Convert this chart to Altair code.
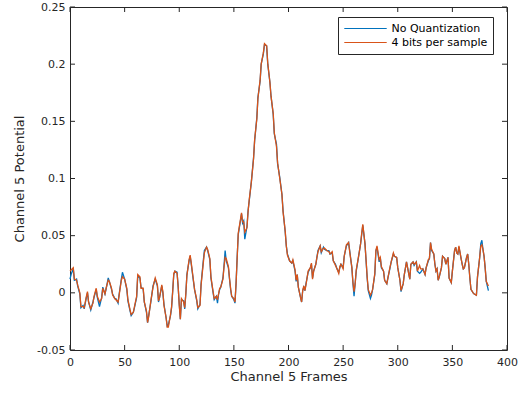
import altair as alt
import pandas as pd

frames = [
    0, 1, 3, 4, 6, 7, 9, 10, 12, 13,
    15, 16, 17, 19, 21, 22, 24, 25, 27, 29,
    30, 32, 33, 35, 36, 38, 39, 41, 42, 44,
    45, 47, 48, 50, 52, 53, 55, 56, 58, 59,
    61, 62, 64, 65, 67, 68, 70, 71, 72, 74,
    76, 78, 80, 81, 82, 84, 85, 86, 88, 89,
    90, 92, 93, 94, 95, 96, 98, 99, 100, 101,
    102, 104, 105, 106, 107, 109, 110, 111, 113, 114,
    116, 117, 119, 120, 122, 123, 125, 126, 128, 129,
    131, 132, 134, 135, 136, 137, 138, 140, 141, 142,
    143, 145, 146, 147, 148, 150, 151, 152, 153, 154,
    156, 157, 158, 159, 160, 162, 163, 164, 166, 168,
    169, 171, 172, 174, 175, 177, 178, 180, 181, 183,
    184, 186, 187, 189, 190, 192, 194, 195, 197, 198,
    199, 201, 203, 204, 206, 207, 208, 209, 211, 212,
    213, 214, 215, 216, 217, 218, 220, 221, 222, 223,
    225, 226, 227, 229, 230, 232, 233, 235, 237, 238,
    240, 241, 243, 244, 246, 247, 248, 250, 251, 253,
    255, 256, 258, 259, 260, 261, 262, 264, 265, 266,
    267, 268, 270, 271, 272, 273, 275, 276, 277, 279,
    280, 281, 283, 284, 285, 287, 288, 290, 291, 293,
    294, 296, 297, 299, 300, 302, 303, 305, 306, 308,
    309, 311, 312, 314, 315, 317, 318, 320, 321, 323,
    325, 326, 328, 329, 330, 331, 333, 334, 335, 336,
    337, 338, 340, 341, 343, 344, 346, 347, 349, 350,
    352, 353, 354, 355, 356, 358, 359, 360, 361, 363,
    364, 365, 366, 367, 369, 370, 372, 373, 375, 376,
    377, 378, 379, 380, 381, 383,
]

no_quant = [
    0.012, 0.016, 0.021, 0.011, 0.012, 0.006, -0.001, -0.013, -0.011, -0.014,
    -0.004, 0.000, -0.008, -0.015, -0.008, -0.004, 0.003, -0.004, -0.012, -0.004,
    0.005, -0.001, 0.003, 0.013, 0.010, 0.003, -0.001, -0.005, -0.005, -0.009,
    -0.001, 0.012, 0.018, 0.012, 0.003, -0.007, -0.016, -0.020, -0.017, -0.013,
    -0.004, 0.015, 0.013, 0.005, 0.003, -0.008, -0.017, -0.026, -0.020, -0.008,
    0.006, 0.012, 0.006, -0.008, -0.004, 0.006, 0.000, -0.010, -0.022, -0.029,
    -0.028, -0.020, -0.013, 0.002, 0.016, 0.019, 0.018, 0.005, -0.010, -0.023,
    -0.006, -0.007, -0.014, -0.001, 0.016, 0.028, 0.032, 0.025, 0.010, 0.003,
    -0.007, -0.014, -0.010, 0.008, 0.028, 0.037, 0.040, 0.037, 0.029, 0.013,
    0.000, -0.006, -0.003, -0.009, -0.001, 0.003, 0.005, 0.013, 0.024, 0.037,
    0.028, 0.022, 0.012, 0.003, -0.003, -0.006, -0.009, 0.008, 0.031, 0.051,
    0.063, 0.069, 0.061, 0.063, 0.047, 0.058, 0.072, 0.080, 0.097, 0.118,
    0.133, 0.153, 0.171, 0.185, 0.200, 0.209, 0.217, 0.216, 0.200, 0.184,
    0.172, 0.156, 0.139, 0.130, 0.113, 0.101, 0.086, 0.072, 0.053, 0.041,
    0.034, 0.028, 0.026, 0.028, 0.019, 0.010, 0.016, 0.005, -0.004, -0.008,
    0.002, 0.005, 0.002, 0.008, 0.013, 0.018, 0.022, 0.025, 0.013, 0.019,
    0.025, 0.031, 0.037, 0.041, 0.035, 0.040, 0.038, 0.037, 0.037, 0.034,
    0.035, 0.028, 0.025, 0.022, 0.018, 0.022, 0.025, 0.022, 0.032, 0.041,
    0.044, 0.037, 0.022, 0.008, -0.003, 0.008, 0.019, 0.031, 0.037, 0.043,
    0.051, 0.059, 0.043, 0.028, 0.013, 0.002, -0.005, -0.002, 0.003, 0.016,
    0.037, 0.040, 0.027, 0.031, 0.022, 0.019, 0.011, 0.008, 0.013, 0.022,
    0.027, 0.034, 0.032, 0.031, 0.022, 0.011, 0.001, 0.008, 0.016, 0.027,
    0.022, 0.012, 0.025, 0.027, 0.024, 0.027, 0.019, 0.017, 0.018, 0.021,
    0.016, 0.022, 0.028, 0.030, 0.044, 0.037, 0.034, 0.025, 0.019, 0.021,
    0.011, 0.014, 0.022, 0.032, 0.030, 0.025, 0.031, 0.013, 0.009, 0.019,
    0.037, 0.040, 0.035, 0.034, 0.040, 0.030, 0.025, 0.021, 0.022, 0.031,
    0.034, 0.025, 0.013, 0.003, 0.000, -0.001, -0.002, 0.014, 0.031, 0.043,
    0.046, 0.038, 0.032, 0.022, 0.010, 0.002,
]

four_bits = [
    0.019, 0.020, 0.022, 0.012, 0.011, 0.007, 0.000, -0.012, -0.012, -0.013,
    -0.003, 0.001, -0.008, -0.014, -0.009, -0.003, 0.004, -0.003, -0.008, -0.005,
    0.004, -0.001, 0.004, 0.011, 0.010, 0.004, -0.002, -0.005, -0.006, -0.008,
    -0.002, 0.011, 0.014, 0.012, 0.004, -0.006, -0.015, -0.019, -0.017, -0.012,
    -0.003, 0.016, 0.014, 0.004, 0.004, -0.008, -0.016, -0.026, -0.021, -0.007,
    0.005, 0.013, 0.007, -0.007, -0.004, 0.007, 0.001, -0.011, -0.022, -0.030,
    -0.030, -0.019, -0.012, 0.001, 0.017, 0.019, 0.017, 0.006, -0.011, -0.023,
    -0.005, -0.008, -0.013, -0.001, 0.015, 0.029, 0.033, 0.026, 0.011, 0.003,
    -0.006, -0.013, -0.011, 0.007, 0.026, 0.035, 0.040, 0.038, 0.030, 0.014,
    0.001, -0.005, -0.003, -0.006, -0.001, 0.004, 0.005, 0.012, 0.023, 0.031,
    0.030, 0.023, 0.013, 0.004, -0.003, -0.005, -0.008, 0.008, 0.030, 0.052,
    0.064, 0.070, 0.062, 0.062, 0.053, 0.057, 0.071, 0.081, 0.097, 0.117,
    0.134, 0.152, 0.170, 0.186, 0.200, 0.210, 0.218, 0.216, 0.201, 0.184,
    0.172, 0.157, 0.140, 0.128, 0.114, 0.100, 0.086, 0.071, 0.054, 0.041,
    0.033, 0.028, 0.026, 0.029, 0.020, 0.011, 0.016, 0.005, -0.004, -0.008,
    0.002, 0.006, 0.002, 0.007, 0.013, 0.019, 0.022, 0.026, 0.012, 0.019,
    0.025, 0.031, 0.036, 0.041, 0.036, 0.039, 0.039, 0.037, 0.036, 0.034,
    0.036, 0.028, 0.024, 0.022, 0.017, 0.023, 0.025, 0.021, 0.032, 0.042,
    0.044, 0.036, 0.022, 0.009, 0.001, 0.008, 0.020, 0.031, 0.037, 0.043,
    0.052, 0.060, 0.043, 0.029, 0.014, 0.003, -0.002, 0.000, 0.003, 0.017,
    0.037, 0.041, 0.029, 0.031, 0.023, 0.019, 0.011, 0.008, 0.013, 0.023,
    0.027, 0.035, 0.032, 0.031, 0.022, 0.011, 0.002, 0.008, 0.016, 0.027,
    0.022, 0.012, 0.025, 0.027, 0.025, 0.027, 0.019, 0.024, 0.021, 0.021,
    0.016, 0.022, 0.029, 0.030, 0.044, 0.038, 0.034, 0.025, 0.019, 0.021,
    0.011, 0.014, 0.022, 0.032, 0.030, 0.025, 0.031, 0.013, 0.009, 0.019,
    0.037, 0.040, 0.035, 0.034, 0.041, 0.030, 0.025, 0.021, 0.022, 0.031,
    0.034, 0.025, 0.013, 0.003, 0.000, -0.001, -0.002, 0.014, 0.031, 0.041,
    0.042, 0.038, 0.032, 0.022, 0.010, 0.006,
]

x_ticks = [0, 50, 100, 150, 200, 250, 300, 350, 400]
y_ticks = [-0.05, 0, 0.05, 0.1, 0.15, 0.2, 0.25]
series_names = ["No Quantization", "4 bits per sample"]
series_colors = ["#0072BD", "#D95319"]

W, H = 437, 343
FONT = "DejaVu Sans"
AX = "#262626"

df_blue = pd.DataFrame({"frame": frames, "value": no_quant, "series": series_names[0]})
df_orange = pd.DataFrame({"frame": frames, "value": four_bits, "series": series_names[1]})
df_xt = pd.DataFrame({"frame": x_ticks})
df_yt = pd.DataFrame({"value": y_ticks})

xscale = alt.Scale(domain=[0, 400], nice=False, zero=False)
yscale = alt.Scale(domain=[-0.05, 0.25], nice=False, zero=False)

xaxis = alt.Axis(values=x_ticks, title="Channel 5 Frames", ticks=False, domain=False, grid=False,
                 labelPadding=6, titlePadding=3, labelFontSize=11, titleFontSize=13,
                 labelFont=FONT, titleFont=FONT, labelColor=AX, titleColor=AX,
                 titleFontWeight="normal", labelFlush=False)
yaxis = alt.Axis(values=y_ticks, title="Channel 5 Potential", ticks=False, domain=False, grid=False,
                 labelPadding=5, titlePadding=10, labelFontSize=11, titleFontSize=13,
                 labelFont=FONT, titleFont=FONT, labelColor=AX, titleColor=AX,
                 titleFontWeight="normal", labelFlush=False,
                 labelExpr="'' + datum.value")

legend = alt.Legend(title=None, orient="none", legendX=268, legendY=10,
                    symbolType="stroke", symbolSize=1800, symbolStrokeWidth=1.2,
                    clipHeight=12,
                    labelFont=FONT, labelFontSize=11, labelColor="#000000",
                    labelOffset=4, rowPadding=2, padding=5.5,
                    strokeColor=AX, fillColor="white", cornerRadius=0)

color = alt.Color("series:N", scale=alt.Scale(domain=series_names, range=series_colors), legend=legend)

x_enc = alt.X("frame:Q", scale=xscale, axis=xaxis)
y_enc = alt.Y("value:Q", scale=yscale, axis=yaxis)

blue = alt.Chart(df_blue).mark_line(strokeWidth=1.3).encode(x=x_enc, y=y_enc, color=color)
orange = alt.Chart(df_orange).mark_line(strokeWidth=1.3).encode(x=x_enc, y=y_enc, color=color)

tick_bottom = alt.Chart(df_xt).mark_rule(color=AX, strokeWidth=1).encode(
    x=x_enc, y=alt.value(H), y2=alt.value(H - 5))
tick_top = alt.Chart(df_xt).mark_rule(color=AX, strokeWidth=1).encode(
    x=x_enc, y=alt.value(0), y2=alt.value(5))
tick_left = alt.Chart(df_yt).mark_rule(color=AX, strokeWidth=1).encode(
    y=y_enc, x=alt.value(0), x2=alt.value(5))
tick_right = alt.Chart(df_yt).mark_rule(color=AX, strokeWidth=1).encode(
    y=y_enc, x=alt.value(W), x2=alt.value(W - 5))

chart = alt.layer(blue, orange, tick_bottom, tick_top, tick_left, tick_right).properties(
    width=W, height=H,
    autosize=alt.AutoSizeParams(type="none"),
    padding={"left": 70, "top": 7, "right": 17, "bottom": 44},
    background="white",
).configure_view(stroke=AX, strokeWidth=1)

chart.save("out.html", embed_options={"renderer": "svg", "actions": False})
